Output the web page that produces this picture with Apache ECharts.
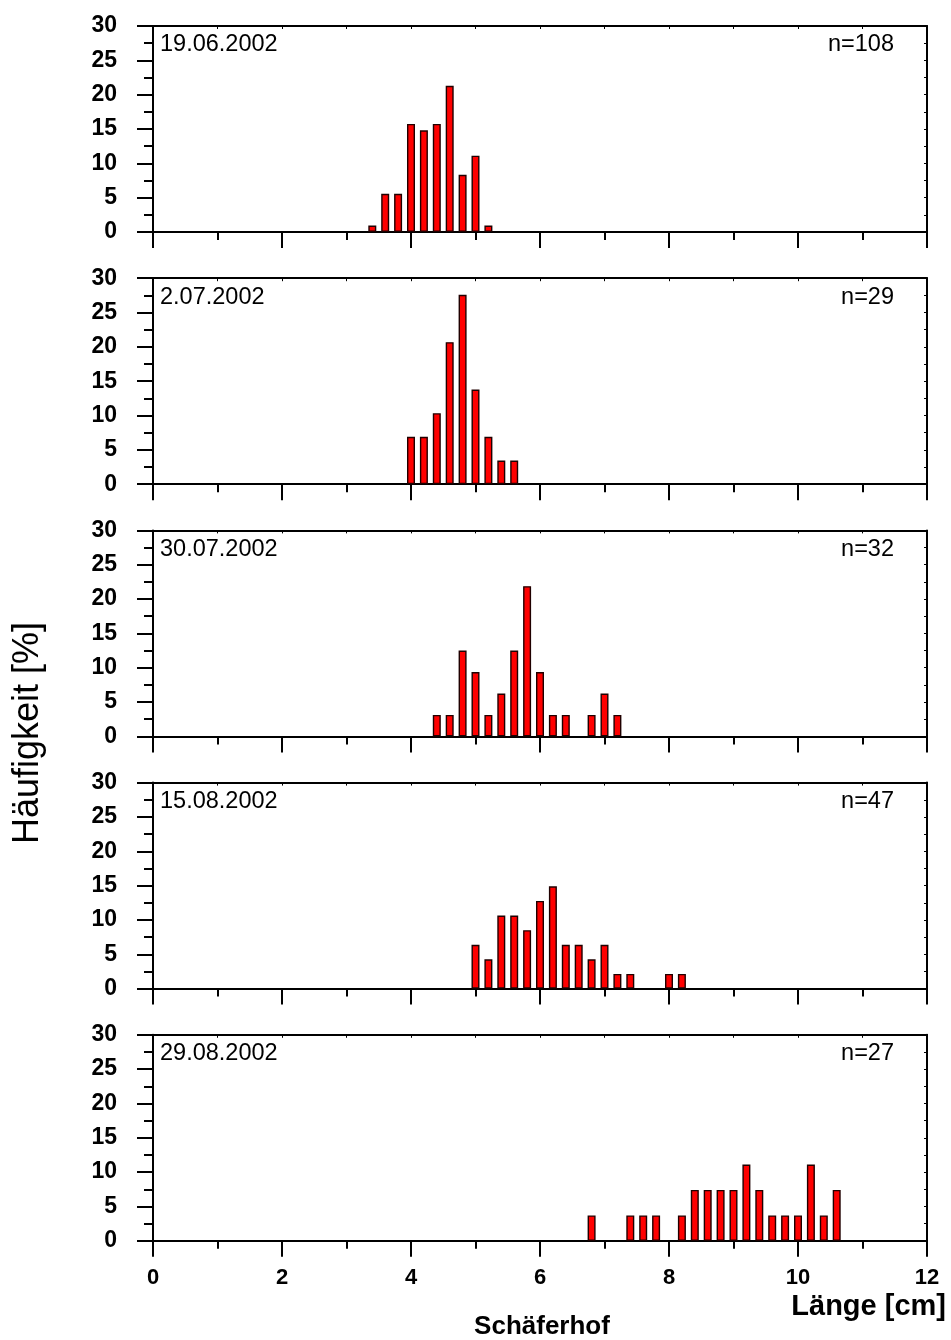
<!DOCTYPE html>
<html>
<head>
<meta charset="utf-8">
<script src="https://cdn.jsdelivr.net/npm/echarts@6/dist/echarts.min.js"></script>
<style>
html,body{margin:0;padding:0;background:#fff;}
#chart{width:951px;height:1340px;}
</style>
</head>
<body>
<div id="chart"></div>
<script>
// ---- data (length classes in cm, frequency in %) ----
const dates = ['19.06.2002', '2.07.2002', '30.07.2002', '15.08.2002', '29.08.2002'];
const counts = ['n=108', 'n=29', 'n=32', 'n=47', 'n=27'];

const len1 = [3.4, 3.6, 3.8, 4.0, 4.2, 4.4, 4.6, 4.8, 5.0, 5.2];
const pct1 = [0.93, 5.56, 5.56, 15.74, 14.81, 15.74, 21.30, 8.33, 11.11, 0.93];

const len2 = [4.0, 4.2, 4.4, 4.6, 4.8, 5.0, 5.2, 5.4, 5.6];
const pct2 = [6.90, 6.90, 10.34, 20.69, 27.59, 13.79, 6.90, 3.45, 3.45];

const len3 = [4.4, 4.6, 4.8, 5.0, 5.2, 5.4, 5.6, 5.8, 6.0, 6.2, 6.4, 6.8, 7.0, 7.2];
const pct3 = [3.13, 3.13, 12.50, 9.38, 3.13, 6.25, 12.50, 21.88, 9.38, 3.13, 3.13, 3.13, 6.25, 3.13];

const len4 = [5.0, 5.2, 5.4, 5.6, 5.8, 6.0, 6.2, 6.4, 6.6, 6.8, 7.0, 7.2, 7.4, 8.0, 8.2];
const pct4 = [6.38, 4.26, 10.64, 10.64, 8.51, 12.77, 14.89, 6.38, 6.38, 4.26, 6.38, 2.13, 2.13, 2.13, 2.13];

const len5 = [6.8, 7.4, 7.6, 7.8, 8.2, 8.4, 8.6, 8.8, 9.0, 9.2, 9.4, 9.6, 9.8, 10.0, 10.2, 10.4, 10.6];
const pct5 = [3.70, 3.70, 3.70, 3.70, 3.70, 7.41, 7.41, 7.41, 7.41, 11.11, 7.41, 3.70, 3.70, 3.70, 11.11, 3.70, 7.41];

const xMin = 0, xMax = 12, xInterval = 2;
const yMin = 0, yMax = 30, yInterval = 5;

const xTitle = 'Länge [cm]';
const yTitle = 'Häufigkeit [%]';
const siteName = 'Schäferhof';

// ---- build ----
const lengths = [len1, len2, len3, len4, len5];
const percents = [pct1, pct2, pct3, pct4, pct5];

const FONT = '"Liberation Sans", Arial, Helvetica, sans-serif';
const LEFT = 153, WIDTH = 774, TOP0 = 26, STEP = 252.2, HEIGHT = 206;

const grids = [], xAxes = [], yAxes = [], series = [], graphics = [];

lengths.forEach((lens, i) => {
  const top = TOP0 + STEP * i;
  const last = i === lengths.length - 1;
  grids.push({ left: LEFT, width: WIDTH, top: top, height: HEIGHT });

  // bottom x axis
  xAxes.push({
    type: 'value', gridIndex: i, position: 'bottom', min: xMin, max: xMax, interval: xInterval,
    axisLine: { show: true, onZero: false, lineStyle: { color: '#000', width: 2 } },
    axisTick: { show: true, inside: false, length: 16, lineStyle: { color: '#000', width: 2 } },
    minorTick: { show: true, splitNumber: 2, length: 8, lineStyle: { color: '#000', width: 2 } },
    axisLabel: { show: last, margin: 26, color: '#000', fontFamily: FONT, fontSize: 22, fontWeight: 'bold' },
    splitLine: { show: false }, minorSplitLine: { show: false }
  });
  // top x axis (frame)
  xAxes.push({
    type: 'value', gridIndex: i, position: 'top', min: xMin, max: xMax, interval: xInterval,
    axisLine: { show: true, onZero: false, lineStyle: { color: '#000', width: 2 } },
    axisTick: { show: true, inside: true, length: 3, lineStyle: { color: '#000', width: 1 } },
    minorTick: { show: true, splitNumber: 2, length: 3, lineStyle: { color: '#000', width: 1 } },
    axisLabel: { show: false }, splitLine: { show: false }, minorSplitLine: { show: false }
  });
  // left y axis
  yAxes.push({
    type: 'value', gridIndex: i, position: 'left', min: yMin, max: yMax, interval: yInterval,
    axisLine: { show: true, onZero: false, lineStyle: { color: '#000', width: 2 } },
    axisTick: { show: true, inside: false, length: 16, lineStyle: { color: '#000', width: 2 } },
    minorTick: { show: true, splitNumber: 2, length: 9, lineStyle: { color: '#000', width: 2 } },
    axisLabel: { show: true, margin: 36, color: '#000', fontFamily: FONT, fontSize: 23, fontWeight: 'bold', padding: [0, 0, 12, 0] },
    splitLine: { show: false }, minorSplitLine: { show: false }
  });
  // right y axis (frame)
  yAxes.push({
    type: 'value', gridIndex: i, position: 'right', min: yMin, max: yMax, interval: yInterval,
    axisLine: { show: true, onZero: false, lineStyle: { color: '#000', width: 2 } },
    axisTick: { show: true, inside: true, length: 3, lineStyle: { color: '#000', width: 1 } },
    minorTick: { show: true, splitNumber: 2, length: 3, lineStyle: { color: '#000', width: 1 } },
    axisLabel: { show: false }, splitLine: { show: false }, minorSplitLine: { show: false }
  });

  series.push({
    type: 'bar', xAxisIndex: 2 * i, yAxisIndex: 2 * i,
    data: lens.map((x, k) => [x, percents[i][k]]),
    barWidth: 8,
    itemStyle: { color: '#ff0000', borderColor: '#200000', borderWidth: 1.4 },
    silent: true, animation: false
  });

  graphics.push({
    type: 'text', left: 160, top: top + 7,
    style: { text: dates[i], fill: '#000', font: '23.5px ' + FONT }
  });
  graphics.push({
    type: 'text', right: 951 - 894, top: top + 7,
    style: { text: counts[i], fill: '#000', font: '23.5px ' + FONT }
  });
});

graphics.push({
  type: 'text', x: 28, y: 733, rotation: Math.PI / 2,
  style: { text: yTitle, fill: '#000', font: '36px ' + FONT, align: 'center', verticalAlign: 'middle' }
});
graphics.push({
  type: 'text', x: 946, y: 1307,
  style: { text: xTitle, fill: '#000', font: 'bold 29px ' + FONT, align: 'right', verticalAlign: 'middle' }
});
graphics.push({
  type: 'text', x: 542, y: 1327,
  style: { text: siteName, fill: '#000', font: 'bold 26px ' + FONT, align: 'center', verticalAlign: 'middle' }
});

const chart = echarts.init(document.getElementById('chart'), null, { renderer: 'canvas' });
chart.setOption({
  animation: false,
  backgroundColor: '#fff',
  grid: grids,
  xAxis: xAxes,
  yAxis: yAxes,
  series: series,
  graphic: graphics
});
</script>
</body>
</html>
